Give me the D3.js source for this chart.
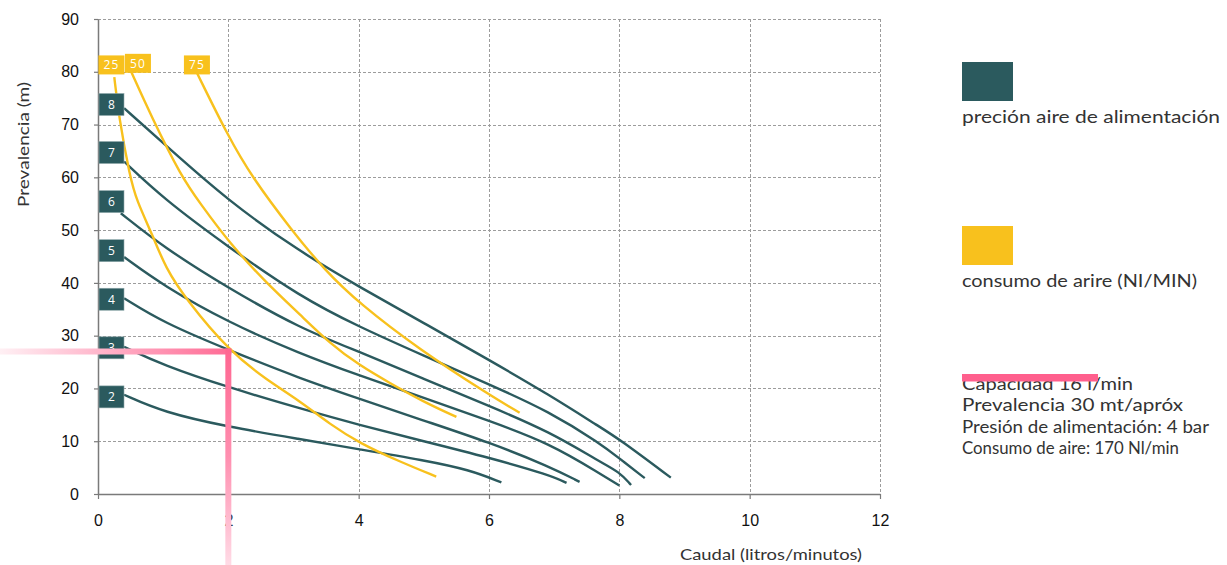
<!DOCTYPE html>
<html><head><meta charset="utf-8">
<script src="https://cdn.jsdelivr.net/npm/d3@7"></script>
<style>body{margin:0;background:#fff;} svg{display:block;}</style>
</head><body><svg id="chart" width="1227" height="565"></svg>
<script>
// ---------- data ----------
const xTickValues = [0, 2, 4, 6, 8, 10, 12];
const yTickValues = [0, 10, 20, 30, 40, 50, 60, 70, 80, 90];

const pressureLabels = ["2", "3", "4", "5", "6", "7", "8"];
const pressureLabelY = [18.4, 27.7, 36.9, 46.1, 55.4, 64.7, 73.8];
const p2 = [[0.4,18.8],[1,15.5],[2,12.7],[3.1,10.4],[4,8.5],[5,6.4],[5.7,4.6],[6.19,2.2]];
const p3 = [[0.4,27.9],[1,24.4],[2,20.2],[3.1,16.2],[4,13.1],[5,10.0],[6,6.9],[6.93,3.6],[7.19,2.1]];
const p4 = [[0.4,37.1],[1,32.5],[2,27.3],[3.1,21.9],[4,18.1],[5,13.9],[6,9.8],[6.93,5.2],[7.39,2.3]];
const p5 = [[0.4,44.9],[1,39.5],[2,32.5],[3.1,26.6],[4,22.5],[5,18.2],[6,13.9],[6.93,9.6],[7.7,3.9],[8,1.6]];
const p6 = [[0.35,53.2],[1,46.8],[2,39.0],[3.1,31.4],[4,27.0],[5,21.8],[6,16.7],[6.93,11.8],[7.7,6.1],[8,4.2],[8.18,1.7]];
const p7 = [[0.4,63],[1,56],[2,46.8],[3.1,37.4],[4,31.7],[5,26.2],[6,20.8],[6.93,15.6],[7.7,9.6],[8,6.75],[8.39,3.0]];
const p8 = [[0.4,73.1],[1,66.5],[2,55.5],[3.1,45.9],[4,39.3],[5,32.4],[6,25.4],[6.93,18.75],[7.7,12.7],[8,10.4],[8.79,3.1]];
const pressureCurves = [p2, p3, p4, p5, p6, p7, p8];

const airLabels = ["25", "50", "75"];
const airLabelX = [0.206, 0.613, 1.518];
const airLabelY = [81.3, 81.6, 81.3];
const air25 = [[0.25,79],[0.32,71.5],[0.49,60.1],[0.59,55.7],[0.85,48.7],[1.03,43],[1.36,36.7],[2.02,27],[2.59,21.6],[3.1,17.6],[3.56,13.2],[4.02,9.6],[4.6,6.3],[5.19,3.3]];
const air50 = [[0.51,80],[0.82,71.5],[1.28,60.1],[1.56,55.2],[2.02,47.5],[2.59,39.9],[3.1,34],[3.56,28.5],[4.01,24.4],[4.48,21],[4.99,17.5],[5.5,14.6]];
const air75 = [[1.51,80],[2.0,67.7],[2.36,60.1],[2.97,50],[3.48,42.4],[4.01,36.1],[4.94,27.3],[6.01,18.75],[6.47,15.4]];
const airCurves = [air25, air50, air75];

const operatingPoint = [2, 27];
const legendLabels = ["preción aire de alimentación", "consumo de arire (NI/MIN)"];
const noteLines = ["Capacidad 16 l/min", "Prevalencia 30 mt/apróx", "Presión de alimentación: 4 bar", "Consumo de aire: 170 Nl/min"];
const xTitle = "Caudal (litros/minutos)";
const yTitle = "Prevalencia (m)";

// ---------- drawing ----------
const TEAL = "#2b5a5e", YELLOW = "#f8c11d", PINK = "#ff5f8d";
const svg = d3.select("#chart");
const x = d3.scaleLinear().domain([0, 12]).range([98, 880]);
const y = d3.scaleLinear().domain([0, 90]).range([494, 19]);

const defs = svg.append("defs");
const gh = defs.append("linearGradient").attr("id", "gh").attr("x1", "0").attr("x2", "1").attr("y1", "0").attr("y2", "0");
gh.append("stop").attr("offset", "0").attr("stop-color", "#fff0f4");
gh.append("stop").attr("offset", "0.45").attr("stop-color", "#ffb3c9");
gh.append("stop").attr("offset", "1").attr("stop-color", "#ff6a94");
const gv = defs.append("linearGradient").attr("id", "gv").attr("x1", "0").attr("x2", "0").attr("y1", "0").attr("y2", "1");
gv.append("stop").attr("offset", "0").attr("stop-color", "#ff6590");
gv.append("stop").attr("offset", "0.5").attr("stop-color", "#ff8fb0");
gv.append("stop").attr("offset", "1").attr("stop-color", "#ffdbe6");

// grid
const grid = svg.append("g").attr("stroke", "#9c9c9c").attr("stroke-width", 1).attr("stroke-dasharray", "3,2");
grid.selectAll("line.v").data(xTickValues.filter(d => d > 0)).join("line")
  .attr("x1", d => Math.round(x(d)) + 0.5).attr("x2", d => Math.round(x(d)) + 0.5)
  .attr("y1", y(90)).attr("y2", y(0));
grid.selectAll("line.h").data(yTickValues.filter(d => d > 0)).join("line")
  .attr("y1", d => Math.round(y(d)) + 0.5).attr("y2", d => Math.round(y(d)) + 0.5)
  .attr("x1", x(0)).attr("x2", x(12));

// axes
const axFont = "'Liberation Sans', Arial, sans-serif";
const yAxis = svg.append("g").attr("transform", `translate(${x(0)},0)`)
  .call(d3.axisLeft(y).tickValues(yTickValues).tickSize(4).tickSizeOuter(0).tickPadding(15));
const xAxis = svg.append("g").attr("transform", `translate(0,${y(0)})`)
  .call(d3.axisBottom(x).tickValues(xTickValues).tickSize(5).tickSizeOuter(0).tickPadding(16));
[yAxis, xAxis].forEach(a => {
  a.select(".domain").attr("stroke", "#7a7a7a").attr("stroke-width", 1.5);
  a.selectAll(".tick line").attr("stroke", "#7a7a7a").attr("stroke-width", 1.2);
  a.selectAll(".tick text").attr("font-family", axFont).attr("font-size", 16).attr("fill", "#111");
});

// curves
const line = d3.line().x(d => x(d[0])).y(d => y(d[1])).curve(d3.curveBasis);
svg.append("g").selectAll("path").data(pressureCurves).join("path")
  .attr("d", line).attr("fill", "none").attr("stroke", TEAL).attr("stroke-width", 2.4);
svg.append("g").selectAll("path").data(airCurves).join("path")
  .attr("d", line).attr("fill", "none").attr("stroke", YELLOW).attr("stroke-width", 2.4);

// pressure labels
const lblFont = "'Open Sans', 'Noto Sans', sans-serif";
const pl = svg.append("g").selectAll("g").data(pressureLabels).join("g")
  .attr("transform", (d, i) => `translate(${x(0) + 1},${y(pressureLabelY[i])})`);
pl.append("rect").attr("x", 0).attr("y", -11).attr("width", 25).attr("height", 22)
  .attr("fill", TEAL).attr("stroke", "#8fa9ab").attr("stroke-width", 0.6);
pl.append("text").attr("x", 12.5).attr("y", 4.5).attr("text-anchor", "middle")
  .attr("font-family", lblFont).attr("font-size", 12).attr("fill", "#fff").text(d => d);

// air labels
const al = svg.append("g").selectAll("g").data(airLabels).join("g")
  .attr("transform", (d, i) => `translate(${x(airLabelX[i])},${y(airLabelY[i])})`);
al.append("rect").attr("x", -13).attr("y", -9.5).attr("width", 26).attr("height", 19).attr("fill", YELLOW);
al.append("text").attr("x", 0).attr("y", 4.5).attr("text-anchor", "middle").attr("letter-spacing", 1)
  .attr("font-family", lblFont).attr("font-size", 12).attr("fill", "#fff").text(d => d);

// operating point marker
const mx = x(operatingPoint[0]), my = y(operatingPoint[1]);
svg.append("rect").attr("x", 0).attr("y", my - 3).attr("width", mx + 3).attr("height", 6).attr("fill", "url(#gh)");
svg.append("rect").attr("x", mx - 3).attr("y", my - 3).attr("width", 6).attr("height", 565 - (my - 3)).attr("fill", "url(#gv)");

// axis titles
const titleFont = "Lato, 'Noto Sans', sans-serif";
svg.append("text").attr("x", 862).attr("y", 560).attr("text-anchor", "end")
  .attr("font-family", titleFont).attr("font-size", 15).attr("fill", "#333")
  .attr("textLength", 182).attr("lengthAdjust", "spacingAndGlyphs").text(xTitle);
svg.append("text").attr("transform", "translate(29,207) rotate(-90)")
  .attr("font-family", titleFont).attr("font-size", 15).attr("fill", "#333")
  .attr("textLength", 125).attr("lengthAdjust", "spacingAndGlyphs").text(yTitle);

// legend
const legColors = [TEAL, YELLOW];
const legTop = [62, 226];
const legW = [258, 235];
const leg = svg.append("g").selectAll("g").data(legendLabels).join("g");
leg.append("rect").attr("x", 962).attr("y", (d, i) => legTop[i]).attr("width", 51).attr("height", 39)
  .attr("fill", (d, i) => legColors[i]);
leg.append("text").attr("x", 962).attr("y", (d, i) => legTop[i] + 61)
  .attr("font-family", titleFont).attr("font-size", 17).attr("fill", "#333")
  .attr("textLength", (d, i) => legW[i]).attr("lengthAdjust", "spacingAndGlyphs").text(d => d);

// notes
const noteY = [390, 411, 433, 454];
const noteW = [171, 221, 247, 217];
svg.append("g").selectAll("text").data(noteLines).join("text")
  .attr("x", 962).attr("y", (d, i) => noteY[i])
  .attr("font-family", titleFont).attr("font-size", 17).attr("fill", "#333")
  .attr("textLength", (d, i) => noteW[i]).attr("lengthAdjust", "spacingAndGlyphs").text(d => d);
svg.append("rect").attr("x", 962).attr("y", 374).attr("width", 136).attr("height", 7.5).attr("fill", PINK);
</script>
</body></html>
